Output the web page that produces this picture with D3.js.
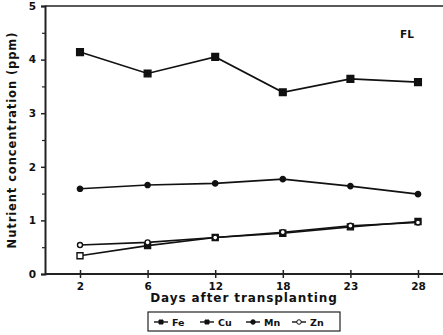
<!DOCTYPE html>
<html>
<head>
  <script src="https://cdn.jsdelivr.net/npm/d3@7/dist/d3.min.js"></script>
  <style>
    body { margin: 0; background: #fff; }
    text { font-family: "DejaVu Sans", sans-serif; font-weight: bold; fill: #111; }
  </style>
</head>
<body>
  <svg width="443" height="335" id="mainsvg"></svg>
  <script>
    // data
    const days = ['2', '6', '12', '18', '23', '28'];
    const fe = [0.34, 0.53, 0.68, 0.76, 0.88, 0.98];
    const cu = [4.14, 3.74, 4.05, 3.39, 3.64, 3.58];
    const mn = [1.59, 1.66, 1.69, 1.77, 1.64, 1.49];
    const zn = [0.54, 0.59, 0.68, 0.78, 0.90, 0.96];
    const yTicks = [0, 1, 2, 3, 4, 5];

    const svg = d3.select('#mainsvg');
    const plotLeft = 45, plotRight = 443, plotTop = 6, plotBottom = 274;

    const x = d3.scalePoint().domain(days).range([80, 418]);
    const y = d3.scaleLinear().domain([0, 5]).range([plotBottom, plotTop]);

    const series = [
      { name: 'Fe', values: fe, shape: d3.symbolSquare, size: 36, fill: '#111' },
      { name: 'Cu', values: cu, shape: d3.symbolSquare, size: 45, fill: '#111' },
      { name: 'Mn', values: mn, shape: d3.symbolCircle, size: 22, fill: '#111' },
      { name: 'Zn', values: zn, shape: d3.symbolCircle, size: 20, fill: '#fff' }
    ];

    // frame
    svg.append('line').attr('x1', plotLeft).attr('x2', plotRight).attr('y1', plotTop).attr('y2', plotTop)
      .attr('stroke', '#222').attr('stroke-width', 1.6);

    // y axis
    const yAxis = d3.axisLeft(y).tickValues(yTicks).tickSize(4).tickPadding(5).tickFormat(d3.format('d'));
    const yg = svg.append('g').attr('transform', `translate(${plotLeft},0)`).call(yAxis);
    yg.select('.domain').attr('stroke', '#222').attr('stroke-width', 2);
    yg.selectAll('.tick line').attr('stroke', '#222').attr('stroke-width', 1.5);
    yg.selectAll('.tick text').attr('font-size', 10.5).attr('font-weight', 'bold');
    const yMinor = d3.axisLeft(y).tickValues([0.5, 1.5, 2.5, 3.5, 4.5]).tickSize(3).tickFormat('');
    const ym = svg.append('g').attr('transform', `translate(${plotLeft},0)`).call(yMinor);
    ym.select('.domain').remove();
    ym.selectAll('.tick line').attr('stroke', '#222').attr('stroke-width', 1.2);

    // x axis
    const xAxis = d3.axisBottom(x).tickSize(4).tickPadding(5);
    const xg = svg.append('g').attr('transform', `translate(0,${plotBottom})`).call(xAxis);
    xg.select('.domain').remove();
    xg.append('line').attr('x1', plotLeft).attr('x2', plotRight).attr('stroke', '#222').attr('stroke-width', 2);
    xg.selectAll('.tick line').attr('y1', -4).attr('stroke', '#222').attr('stroke-width', 1.5);
    xg.selectAll('.tick text').attr('font-size', 10.5).attr('font-weight', 'bold');

    // lines and markers
    const line = d3.line().x((d, i) => x(days[i])).y(d => y(d));
    series.forEach(s => {
      svg.append('path').datum(s.values)
        .attr('fill', 'none').attr('stroke', '#111').attr('stroke-width', 1.6)
        .attr('d', line);
      svg.append('g').selectAll('path').data(s.values).join('path')
        .attr('transform', (d, i) => `translate(${x(days[i])},${y(d)})`)
        .attr('d', d3.symbol().type(s.shape).size(s.size))
        .attr('fill', (d, i) => (s.name === 'Fe' && i === 0) ? '#fff' : s.fill)
        .attr('stroke', '#111').attr('stroke-width', 1.4);
    });

    // labels
    svg.append('text').attr('transform', `translate(16,${(plotTop + plotBottom) / 2}) rotate(-90)`)
      .attr('text-anchor', 'middle').attr('font-size', 11.5).attr('letter-spacing', 0.9)
      .text('Nutrient concentration (ppm)');
    svg.append('text').attr('x', 244).attr('y', 302).attr('text-anchor', 'middle')
      .attr('font-size', 12).attr('letter-spacing', 0.9).text('Days after transplanting');
    svg.append('text').attr('x', 400).attr('y', 38).attr('font-size', 10.5).text('FL');

    // legend
    const lg = svg.append('g').attr('transform', 'translate(148,312)');
    lg.append('rect').attr('width', 192).attr('height', 19)
      .attr('fill', 'none').attr('stroke', '#222').attr('stroke-width', 1.2);
    const item = lg.selectAll('g').data(series).join('g')
      .attr('transform', (d, i) => `translate(${6 + i * 46},10)`);
    item.append('line').attr('x1', 0).attr('x2', 14).attr('stroke', '#111').attr('stroke-width', 1.4);
    item.append('path').attr('transform', 'translate(7,0)')
      .attr('d', d => d3.symbol().type(d.shape).size(16)())
      .attr('fill', d => d.fill).attr('stroke', '#111').attr('stroke-width', 1);
    item.append('text').attr('x', 18).attr('y', 3.5).attr('font-size', 9.5).text(d => d.name);
  </script>
</body>
</html>
